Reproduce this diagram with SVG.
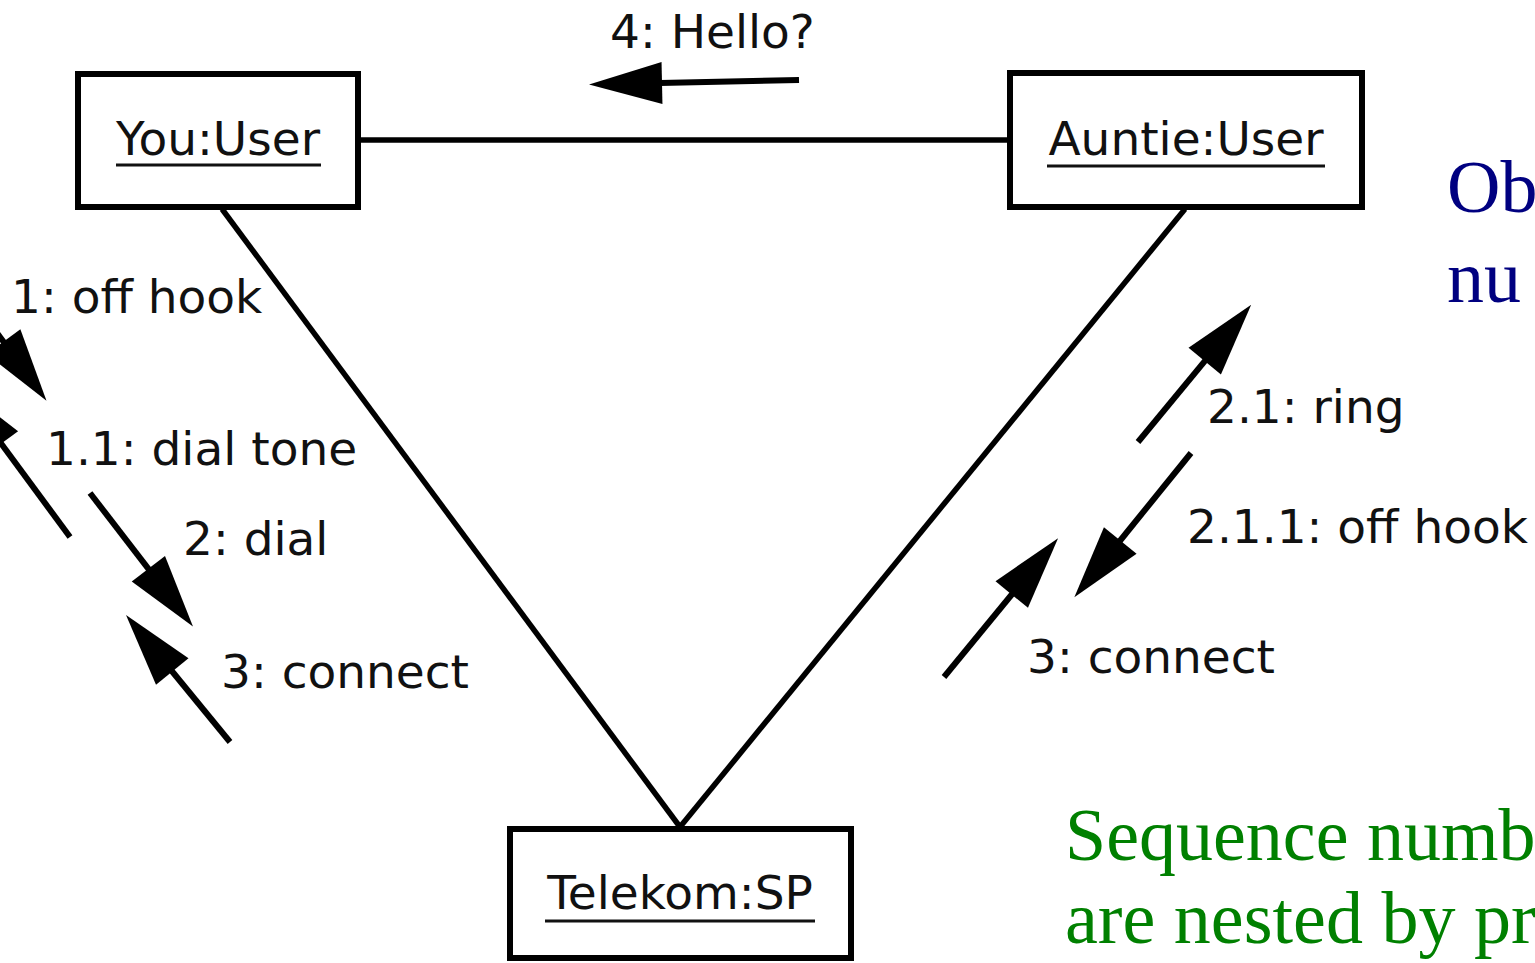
<svg xmlns="http://www.w3.org/2000/svg" width="1535" height="963" viewBox="0 0 1535 963">
<style>
.box{fill:#fff;stroke:#000;stroke-width:6}
.name{font-family:"DejaVu Sans",sans-serif;font-size:47px;fill:#111;text-anchor:middle}
.ul{stroke:#111;stroke-width:3}
.link{stroke:#000;stroke-width:5.5;fill:none}
.msg{stroke:#000;stroke-width:6;fill:none;marker-end:url(#ah)}
.lbl{font-family:"DejaVu Sans",sans-serif;font-size:47px;fill:#111}
.blue{font-family:"Liberation Serif",serif;font-size:74px;fill:#000080}
.green{font-family:"Liberation Serif",serif;font-size:74px;fill:#008000}
</style>
<defs>
<marker id="ah" markerUnits="userSpaceOnUse" markerWidth="80" markerHeight="50" viewBox="0 -25 80 50" refX="2" refY="0" orient="auto" overflow="visible">
<path d="M0,-21 L73,0 L0,21 z" fill="#000"/>
</marker>
</defs>
<rect width="1535" height="963" fill="#fff"/>
<g id="connectors">
<line class="link" x1="358" y1="140" x2="1010" y2="140"/>
<line class="link" x1="222" y1="209" x2="680" y2="827"/>
<line class="link" x1="1185" y1="209" x2="680" y2="827"/>
<line class="msg" x1="799" y1="80" x2="660" y2="83"/>
<line class="msg" x1="-19" y1="311" x2="4.6" y2="343.3"/>
<line class="msg" x1="70" y1="537" x2="0" y2="442"/>
<line class="msg" x1="90" y1="493" x2="149.6" y2="570.3"/>
<line class="msg" x1="230" y1="742" x2="171" y2="670"/>
<line class="msg" x1="1138" y1="442" x2="1206" y2="359.6"/>
<line class="msg" x1="1191" y1="453" x2="1119" y2="542"/>
<line class="msg" x1="944" y1="677" x2="1013" y2="593"/>
</g>
<g id="labels">
<text class="lbl" x="11" y="313">1: off hook</text>
<text class="lbl" x="46" y="465">1.1: dial tone</text>
<text class="lbl" x="183" y="555">2: dial</text>
<text class="lbl" x="221" y="688">3: connect</text>
<text class="lbl" x="610" y="48">4: Hello?</text>
<text class="lbl" x="1207" y="423">2.1: ring</text>
<text class="lbl" x="1187" y="543">2.1.1: off hook</text>
<text class="lbl" x="1027" y="673">3: connect</text>
</g>
<g id="you">
<rect class="box" x="78" y="74" width="280" height="133"/>
<text class="name" x="218" y="155">You:User</text>
<line class="ul" x1="116" y1="165" x2="321" y2="165"/>
</g>
<g id="auntie">
<rect class="box" x="1010" y="73" width="352" height="134"/>
<text class="name" x="1186" y="155">Auntie:User</text>
<line class="ul" x1="1047" y1="166" x2="1325" y2="166"/>
</g>
<g id="telekom">
<rect class="box" x="510" y="829" width="341" height="129"/>
<text class="name" x="680" y="909">Telekom:SP</text>
<line class="ul" x1="545" y1="921" x2="815" y2="921"/>
</g>
<g id="notes">
<text class="blue" x="1447" y="212">Obj</text>
<text class="blue" x="1447" y="302">nu</text>
<text class="green" x="1065" y="860">Sequence numb</text>
<text class="green" x="1065" y="943">are nested by pr</text>
</g>
</svg>
